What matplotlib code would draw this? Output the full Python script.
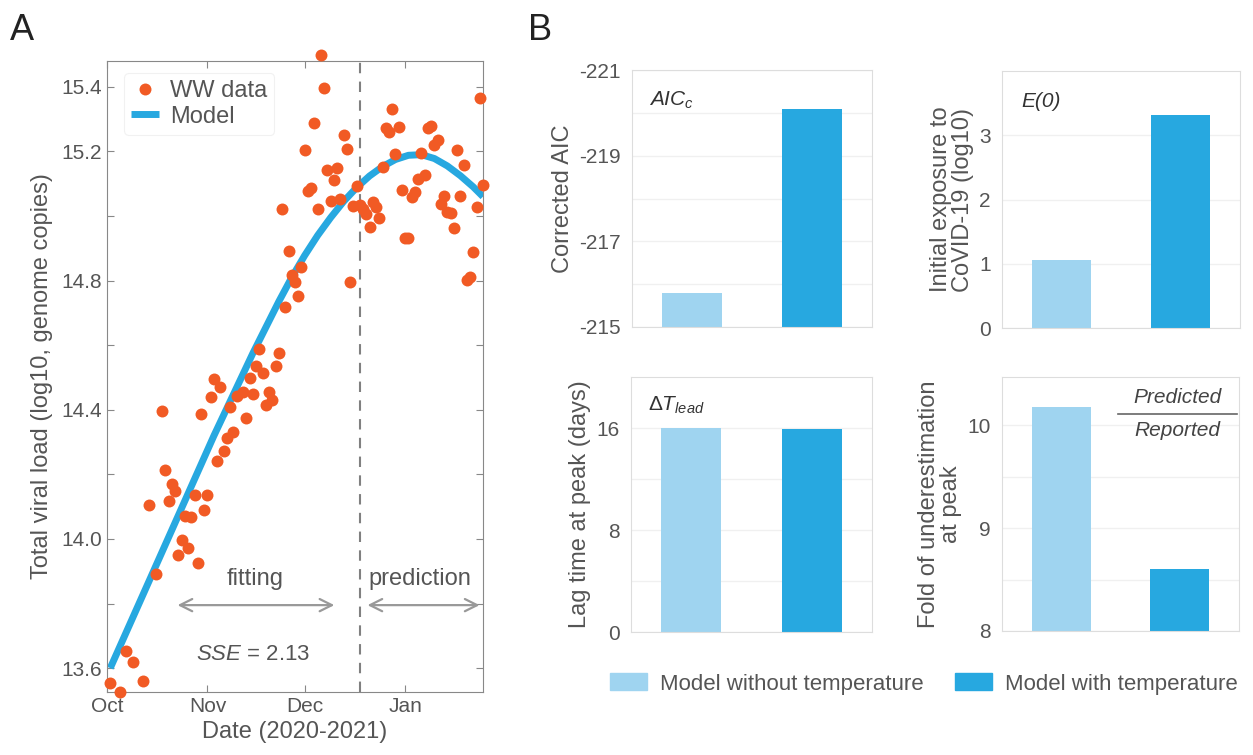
import numpy as np
import matplotlib.pyplot as plt
from matplotlib.patches import Patch

plt.rcParams['font.family'] = ['Liberation Sans', 'DejaVu Sans']
plt.rcParams['mathtext.fontset'] = 'custom'
plt.rcParams['mathtext.it'] = 'Liberation Sans:italic'
plt.rcParams['mathtext.rm'] = 'Liberation Sans'
plt.rcParams['axes.unicode_minus'] = False

# --- panel A data (days since 1 Oct 2020, log10 genome copies) ---
ww_day = [1, 4, 6, 8, 11, 13, 15, 17, 18, 19, 20, 21, 22, 23, 24, 25, 26, 27, 28, 29,
          30, 31, 32, 33, 34, 35, 36, 37, 38, 39, 40, 42, 43, 44, 45, 46, 47, 48, 49, 50,
          51, 52, 53,
          54, 55, 56, 57, 58, 59, 60, 61, 62, 63, 64, 65, 66, 67, 68, 69, 70, 71, 72, 73,
          74, 75, 76, 77, 78, 79, 80, 81, 82, 83, 84,
          85, 86, 87, 88, 89, 90, 91, 92, 93, 94, 95, 96, 97, 98, 99, 100, 101, 102, 103,
          104, 105, 106, 107, 108, 109, 110, 111, 112, 113, 114, 115, 116]
ww_val = [13.555, 13.526, 13.654, 13.620, 13.560, 14.105, 13.891, 14.395, 14.214, 14.119,
          14.170, 14.147, 13.951, 13.998, 14.072, 13.973, 14.068, 14.136, 13.925, 14.386,
          14.089, 14.136, 14.438, 14.496, 14.241, 14.470, 14.272, 14.313, 14.409, 14.330,
          14.442, 14.456, 14.374, 14.499, 14.449, 14.534, 14.589, 14.513, 14.416, 14.456,
          14.431, 14.536, 14.576,
          15.022, 14.718, 14.892, 14.816, 14.795, 14.751, 14.843, 15.204, 15.076, 15.086,
          15.289, 15.022, 15.499, 15.397, 15.144, 15.045, 15.110, 15.149, 15.053, 15.251,
          15.206, 14.795, 15.032, 15.092, 15.034, 15.022, 15.006, 14.967, 15.043, 15.027,
          14.993,
          15.152, 15.272, 15.259, 15.332, 15.192, 15.276, 15.081, 14.933, 14.933, 15.058,
          15.074, 15.116, 15.194, 15.126, 15.272, 15.279, 15.220, 15.235, 15.038, 15.063,
          15.011, 15.009, 14.964, 15.204, 15.061, 15.157, 14.803, 14.811, 14.888, 15.027,
          15.366, 15.095]

model_day = [1, 5, 9, 13, 17, 21, 25, 29, 33, 37, 41, 45, 49, 53, 57, 61, 65, 69, 73, 77,
             81, 85, 89, 93, 97, 101, 105, 109, 113, 116]
model_val = [13.600, 13.690, 13.780, 13.870, 13.960, 14.050, 14.140, 14.230, 14.320,
             14.405, 14.490, 14.575, 14.655, 14.735, 14.810, 14.878, 14.940, 14.995,
             15.045, 15.088, 15.124, 15.153, 15.175, 15.188, 15.190, 15.178, 15.155,
             15.125, 15.090, 15.060]

month_days = [0, 31, 61, 92]
month_labels = ['Oct', 'Nov', 'Dec', 'Jan']
split_day = 78
sse = 2.13

# --- panel B data ---
groups = ['Model without temperature', 'Model with temperature']
aicc = [-215.8, -220.1]
e0 = [1.06, 3.31]
lag = [16.0, 15.9]
fold = [10.18, 8.6]

orange = '#F15A24'
blue = '#27A8E0'
light = '#9FD4F0'
txt = '#555555'

W, H = 1253, 755
fig = plt.figure(figsize=(W / 100, H / 100), dpi=100)


def box(x0, y0, x1, y1):
    return fig.add_axes([x0 / W, 1 - y1 / H, (x1 - x0) / W, (y1 - y0) / H])


# ---------------- panel A ----------------
ax = box(107, 61, 483, 692)
ax.plot(ww_day, ww_val, 'o', color=orange, ms=8.6, mec='none', clip_on=False,
        label='WW data', zorder=3)
ax.plot(model_day, model_val, '-', color=blue, lw=5, label='Model', zorder=2,
        solid_capstyle='butt', solid_joinstyle='round')
ax.axvline(split_day, color='#808080', ls=(0, (5, 4)), lw=1.5)
ax.set_xlim(0, 116)
ax.set_ylim(13.526, 15.48)
ax.set_xticks(month_days)
ax.set_xticklabels(month_labels)
yt = np.round(np.arange(13.6, 15.41, 0.2), 1)
ax.set_yticks(yt)
ax.set_yticklabels(['%.1f' % v if round(v * 10) % 4 == 0 or v == 15.4 else '' for v in yt])
ax.tick_params(direction='in', length=5, color='#888888', labelcolor=txt, labelsize=15,
               top=True, right=True)
for s in ax.spines.values():
    s.set_color('#888888')
ax.set_xlabel('Date (2020-2021)', fontsize=17, color=txt, labelpad=4)
ax.set_ylabel('Total viral load (log10, genome copies)', fontsize=17, color=txt, labelpad=6)

ax.annotate('', xy=(20.9, 13.795), xytext=(71, 13.795),
            arrowprops=dict(arrowstyle='<->', color='#999999', lw=1.6, mutation_scale=22))
ax.annotate('', xy=(79.5, 13.795), xytext=(115.8, 13.795),
            arrowprops=dict(arrowstyle='<->', color='#999999', lw=1.6, mutation_scale=22))
ax.text(45.6, 13.876, 'fitting', fontsize=17, color=txt, ha='center', va='center')
ax.text(96.4, 13.876, 'prediction', fontsize=17, color=txt, ha='center', va='center')
ax.text(45, 13.642, r'$SSE$ = %.2f' % sse, fontsize=16, color=txt, ha='center', va='center')

leg = ax.legend(loc='upper left', fontsize=17, handlelength=1.2, borderpad=0.3,
                labelspacing=0.15, handletextpad=0.45, borderaxespad=0,
                bbox_to_anchor=(0.045, 0.981))
leg.get_frame().set_edgecolor('#eeeeee')
leg.get_frame().set_linewidth(0.8)
for t in leg.get_texts():
    t.set_color(txt)

fig.text(22 / W, 1 - 30 / H, 'A', fontsize=26, ha='center', va='center', color='#222222')
fig.text(540 / W, 1 - 30 / H, 'B', fontsize=26, ha='center', va='center', color='#222222')

# ---------------- panel B ----------------
xpos = [1, 2]
cols = [light, blue]


def barbox(a, vals, bottom, ylim, major, minor, ylabel):
    a.bar(xpos, [v - bottom for v in vals], bottom=bottom, width=0.5, color=cols, zorder=2)
    a.set_xlim(0.5, 2.5)
    a.set_ylim(*ylim)
    a.set_xticks([])
    a.set_yticks(major)
    a.set_yticks(minor, minor=True)
    a.grid(axis='y', which='both', color='#f0f0f0', lw=1, zorder=0)
    a.tick_params(axis='y', which='both', length=0, labelsize=15, labelcolor=txt, pad=8)
    for s in a.spines.values():
        s.set_color('#dddddd')
    a.set_ylabel(ylabel, fontsize=17, color=txt, linespacing=1.0)


a1 = box(632, 70, 872, 327)
barbox(a1, aicc, -215, (-215, -221), [-221, -219, -217, -215], [-220, -218, -216],
       'Corrected AIC')
a1.text(0.07, 0.88, r'$AIC_c$', transform=a1.transAxes, fontsize=15, color='#333333',
        va='center')

a2 = box(1002, 71, 1240, 328)
barbox(a2, e0, 0, (0, 4), [0, 1, 2, 3], [], 'Initial exposure to\nCoVID-19 (log10)')
a2.text(0.08, 0.88, 'E(0)', transform=a2.transAxes, fontsize=15, color='#333333',
        style='italic', va='center')

a3 = box(631, 377, 872, 632)
barbox(a3, lag, 0, (0, 20), [0, 8, 16], [4, 12], 'Lag time at peak (days)')
a3.text(0.07, 0.89, r'$\mathit{\Delta T}_{lead}$', transform=a3.transAxes, fontsize=15,
        color='#333333', va='center')

a4 = box(1002, 377, 1239, 631)
barbox(a4, fold, 8, (8, 10.47), [8, 9, 10], [8.5, 9.5], 'Fold of underestimation\nat peak')
a4.text(0.74, 0.92, 'Predicted', transform=a4.transAxes, fontsize=15, color='#444444',
        style='italic', ha='center', va='center')
a4.text(0.74, 0.79, 'Reported', transform=a4.transAxes, fontsize=15, color='#444444',
        style='italic', ha='center', va='center')
a4.plot([0.49, 0.99], [0.855, 0.855], transform=a4.transAxes, color='#666666', lw=1.2)

handles = [Patch(color=c) for c in cols]
fl = fig.legend(handles, groups, loc='center', bbox_to_anchor=(924 / W, 1 - 684 / H), ncol=2,
                frameon=False, fontsize=16, handlelength=1.65, handleheight=0.8,
                columnspacing=1.4, handletextpad=0.6)
for t in fl.get_texts():
    t.set_color(txt)

fig.savefig('out.png', dpi=100)
